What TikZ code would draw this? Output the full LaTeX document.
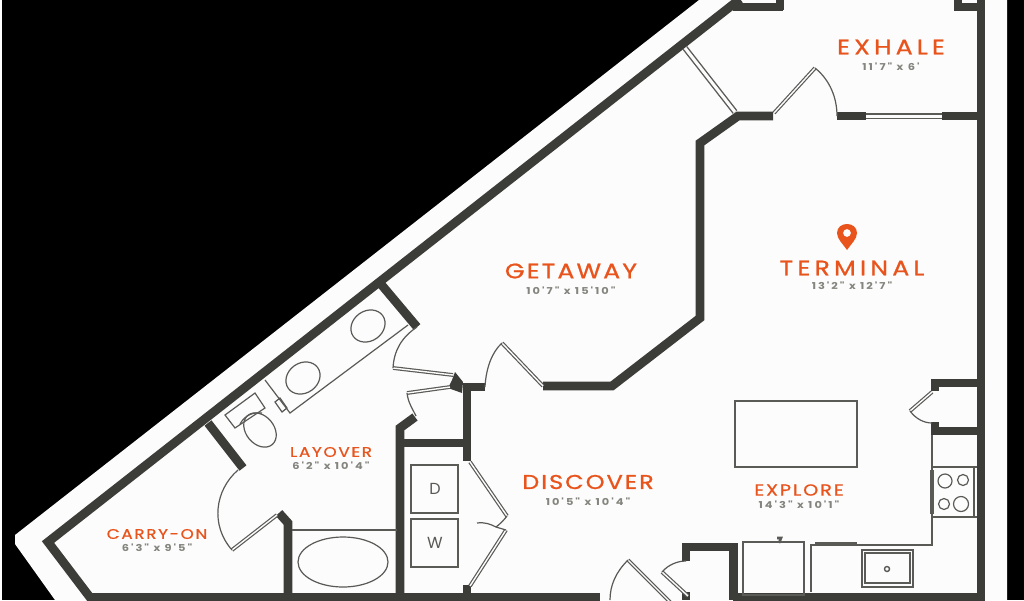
\documentclass[tikz,border=0pt]{standalone}
\usepackage{fontspec}
\setmainfont{Poppins}
\newfontfamily\roomfont[LetterSpace=20,FakeStretch=1.2,FakeBold=0.9]{Poppins}
\newfontfamily\tightfont[LetterSpace=10,FakeStretch=1.2,FakeBold=0.9]{Poppins}
\newfontfamily\smallfont[LetterSpace=12,FakeStretch=1.2,FakeBold=0.8]{Poppins}
\newfontfamily\dimfont[LetterSpace=21,FakeStretch=1.2]{Poppins}
\definecolor{wallgray}{HTML}{3C3D38}
\definecolor{fixgray}{HTML}{5A5B57}
\definecolor{paper}{HTML}{FCFCFC}
\definecolor{roomorange}{HTML}{E8541C}
\definecolor{dimgray}{HTML}{85857F}
\tikzset{
  wall/.style={draw=wallgray, line width=8.8pt, line join=miter},
  fixture/.style={draw=fixgray, line width=1.8pt},
  thinline/.style={draw=wallgray!85, line width=1.2pt},
  leaf/.style={draw=fixgray, line width=1.2pt, double=paper, double distance=1.4pt},
  glass/.style={draw=fixgray, line width=1.4pt, double=paper, double distance=3pt},
  roomname/.style={text=roomorange, inner sep=0pt, font=\roomfont\fontsize{21}{21}\selectfont},
  tightname/.style={text=roomorange, inner sep=0pt, font=\tightfont\fontsize{21}{21}\selectfont},
  smallname/.style={text=roomorange, inner sep=0pt, font=\smallfont\fontsize{14}{14}\selectfont},
  dimtext/.style={text=dimgray, inner sep=0pt, font=\dimfont\bfseries\fontsize{9.5}{10}\selectfont},
  appliance/.style={text=wallgray!85, inner sep=0pt, font=\fontsize{16}{16}\selectfont}
}
\begin{document}
\begin{tikzpicture}[x=1pt, y=-1pt]
\clip (0,0) rectangle (1024,600);
\fill[white] (0,0) rectangle (1024,600);
\fill[black] (2,0) rectangle (1024,600);
\fill[paper] (15,535) -- (699,0) -- (1007,0) -- (1007,600) -- (55,600) -- (15,544) -- cycle;
\draw[wall] (740,-1) -- (48,542) -- (92,600);
\draw[wall] (90,597) -- (600,597);
\draw[wall] (733,597) -- (985,597);
\draw[wall] (981,0) -- (981,600);
\draw[wall] (733,7) -- (783,7);
\draw[wall] (780,0) -- (780,10);
\draw[wall] (954,7) -- (981,7);
\draw[wall] (958,0) -- (958,10);
\draw[wall] (208,423) -- (243,468);
\draw[wall] (380,283) -- (417,327);
\draw[wall] (773,116) -- (738,116) -- (700,143) -- (700,318) -- (612,386) -- (543,386);
\draw[wall] (837,116) -- (866,116);
\draw[wall] (942,116) -- (981,116);
\draw[wall] (279,513) -- (288,523) -- (288,597);
\draw[wall] (415,417) -- (400,428) -- (400,597);
\draw[wall] (400,443) -- (467,443);
\draw[wall] (485,387) -- (467,387) -- (467,461);
\draw[wall] (467,585) -- (467,597);
\fill[wallgray] (455,372) -- (463,382) -- (462,393) -- (448,388) -- (452,380) -- cycle;
\draw[wall] (686,561) -- (686,547) -- (733.5,547) -- (733.5,600);
\draw[wall] (686,592) -- (686,600);
\draw[wall] (935,391) -- (935,383) -- (981,383);
\draw[wall] (935,422) -- (935,431) -- (981,431);
\draw[glass] (685,48) -- (735,112);
\draw[glass] (866,116) -- (942,116);
\draw[leaf] (774,113) -- (815,68);
\draw[leaf] (232,550) -- (277,515);
\draw[leaf] (393,368) -- (453,375);
\draw[leaf] (407,393) -- (450,387);
\draw[leaf] (502,343) -- (543,386);
\draw[leaf] (470,462) -- (507,516);
\draw[leaf] (470,586) -- (506,530);
\draw[leaf] (628,560) -- (670,602);
\draw[leaf] (662,572) -- (688,596);
\draw[leaf] (910,411) -- (932,392);
\draw[thinline] (815,68) .. controls (830,80) and (837,98) .. (837,116);
\draw[thinline] (238,470) .. controls (215,490) and (210,525) .. (232,550);
\draw[thinline] (417,327) .. controls (402,337) and (394,350) .. (393,368);
\draw[thinline] (416,416) .. controls (412,408) and (408,402) .. (407,393);
\draw[thinline] (485,387) .. controls (486,368) and (492,352) .. (502,343);
\draw[thinline] (628,560) .. controls (616,572) and (610,585) .. (610,600);
\draw[thinline] (662,572) .. controls (668,565) and (677,561) .. (686,561);
\draw[thinline] (910,411) .. controls (916,419) and (924,423) .. (932,423);
\draw[thinline] (477,523) .. controls (485,522) and (490,524) .. (496,527) .. controls (500,524) and (504,520) .. (507,516);
\draw[thinline] (496,527) -- (506,530);
\draw[thinline] (408,325) -- (290,413) -- (265,380);
\draw[thinline] (368,326) ellipse [x radius=18pt, y radius=15pt, rotate=35];
\draw[thinline] (303,378) ellipse [x radius=18pt, y radius=15pt, rotate=35];
\draw[thinline] (275,402) -- (280,398) -- (287,408) -- (282,412) -- cycle;
\draw[thinline] (225,415) -- (255,393) -- (265,408) -- (235,428) -- cycle;
\draw[thinline] (240,424) .. controls (245,415) and (253,412) .. (262,413);
\draw[thinline] (260,430) ellipse [x radius=19pt, y radius=14pt, rotate=-50];
\draw[thinline] (292,530) -- (397,530);
\draw[thinline] (343,562) ellipse [x radius=45pt, y radius=25pt];
\draw[fixture] (411,465) rectangle (458,513);
\draw[fixture] (411,519) rectangle (458,567);
\node[appliance] (dryer) at (435,489) {D};
\node[appliance] (washer) at (435,543) {W};
\draw[fixture] (735,401) rectangle (857,467);
\draw[fixture] (743,542) rectangle (804,595);
\draw[fixture, line width=2.6pt] (743,542) -- (804,542);
\draw[fixture, line width=2.6pt] (777,538) -- (781,538) -- (779,543);
\draw[fixture, line width=2.6pt] (815,543) -- (857,543);
\draw[thinline] (811,592) -- (811,545) -- (932,545) -- (932,435);
\draw[fixture, line width=1.1pt] (862,550) rectangle (913,587);
\draw[fixture, line width=1.1pt] (865,553) rectangle (910,583);
\draw[fixture, line width=1.4pt] (887,569) circle (2.5pt);
\draw[thinline] (933,467) -- (977,467);
\draw[thinline] (933,517) -- (977,517);
\draw[thinline] (974,467) -- (974,517);
\draw[fixture, line width=1pt] (930,470) rectangle (933,513);
\draw[thinline] (945,481) circle (7pt);
\draw[thinline] (963,480) circle (5.5pt);
\draw[thinline] (944,504) circle (5.5pt);
\draw[thinline] (961,504) circle (7.5pt);
\fill[roomorange, even odd rule] (847,250) .. controls (843,244) and (837,239) .. (837,233) .. controls (837,227) and (842,224) .. (847,224) .. controls (852,224) and (857,227) .. (857,233) .. controls (857,239) and (851,244) .. (847,250) -- cycle (847,233) circle (4pt);
\node[roomname] (exhale) at (891,47) {EXHALE};
\node[dimtext] (exhaledim) at (891,67) {11'7" x 6'};
\node[roomname] (terminal) at (852,268) {TERMINAL};
\node[dimtext] (terminaldim) at (852,286) {13'2" x 12'7"};
\node[tightname] (getaway) at (571,271) {GETAWAY};
\node[dimtext] (getawaydim) at (571,291) {10'7" x 15'10"};
\node[tightname, font=\tightfont\fontsize{20}{20}\selectfont] (discover) at (588,482) {DISCOVER};
\node[dimtext] (discoverdim) at (588,502) {10'5" x 10'4"};
\node[smallname, font=\smallfont\fontsize{16}{16}\selectfont] (explore) at (799,490) {EXPLORE};
\node[dimtext] (exploredim) at (799,505) {14'3" x 10'1"};
\node[smallname] (layover) at (331,452) {LAYOVER};
\node[dimtext] (layoverdim) at (331,466) {6'2" x 10'4"};
\node[smallname] (carryon) at (157,534) {CARRY-ON};
\node[dimtext] (carryondim) at (157,548) {6'3" x 9'5"};
\end{tikzpicture}
\end{document}
